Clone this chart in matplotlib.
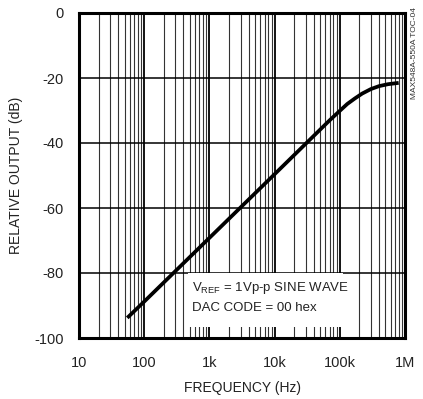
import matplotlib
matplotlib.use("Agg")
import matplotlib.pyplot as plt
from matplotlib.patches import Rectangle
from matplotlib.ticker import FixedLocator, NullFormatter

plt.rcParams["font.family"] = ["Liberation Sans Narrow", "Liberation Sans", "DejaVu Sans"]

# response
freq_hz = [55, 100, 1e3, 1e4, 7e4, 1e5, 1.3e5, 1.7e5, 2.2e5, 3e5, 4e5, 5.5e5, 8e5]
rel_db = [-93.8, -88.8, -69.2, -49.6, -33.0, -30.1, -28.0, -26.3, -24.8, -23.4, -22.5, -21.9, -21.5]

x_ticks = [10, 100, 1e3, 1e4, 1e5, 1e6]
x_labels = ["10", "100", "1k", "10k", "100k", "1M"]
y_ticks = [0, -20, -40, -60, -80, -100]
y_labels = ["0", "-20", "-40", "-60", "-80", "-100"]

W, H = 423, 399
fig = plt.figure(figsize=(W / 100, H / 100), dpi=100)
ax = fig.add_axes([79 / W, 1 - 338 / H, 326 / W, 325 / H])

ax.set_xscale("log")
ax.set_xlim(10, 1e6)
ax.set_ylim(-100, 0)

ax.xaxis.set_major_locator(FixedLocator(x_ticks))
ax.set_xticklabels(x_labels)
minors = [m * 10 ** d for d in range(1, 6) for m in range(2, 10)]
ax.xaxis.set_minor_locator(FixedLocator(minors))
ax.xaxis.set_minor_formatter(NullFormatter())
ax.set_yticks(y_ticks)
ax.set_yticklabels(y_labels)

ax.set_axisbelow(True)
ax.grid(True, which="major", axis="x", color="black", lw=1.3)
ax.grid(True, which="minor", axis="x", color="#333333", lw=0.8)
ax.grid(True, which="major", axis="y", color="black", lw=1.1)

ax.tick_params(which="both", length=0, labelsize=10.5, colors="#222222")
ax.tick_params(axis="x", pad=13)
ax.tick_params(axis="y", pad=11)
for s in ax.spines.values():
    s.set_linewidth(2.2)

# white box behind the annotation
ax.add_patch(Rectangle((470, -96.6), 1.12e5 - 470, 16.6, facecolor="white",
                       edgecolor="none", zorder=1))
ax.text(540, -84.6, r"V$_{\mathregular{REF}}$ = 1Vp-p SINE WAVE", fontsize=9.5,
        va="center", ha="left", color="#222222", zorder=2)
ax.text(540, -90.8, "DAC CODE = 00 hex", fontsize=9.5,
        va="center", ha="left", color="#222222", zorder=2)

ax.plot(freq_hz, rel_db, color="black", lw=2.7, zorder=3, solid_capstyle="butt")

ax.set_xlabel("FREQUENCY (Hz)", fontsize=10, color="#222222", labelpad=8)
ax.set_ylabel("RELATIVE OUTPUT (dB)", fontsize=10, color="#222222", labelpad=8)

fig.text(414 / W, 1 - 53 / H, "MAX548A-550A TOC-04", rotation=90, fontsize=6,
         ha="center", va="center", color="#333333")

fig.savefig("out.png", dpi=100)
